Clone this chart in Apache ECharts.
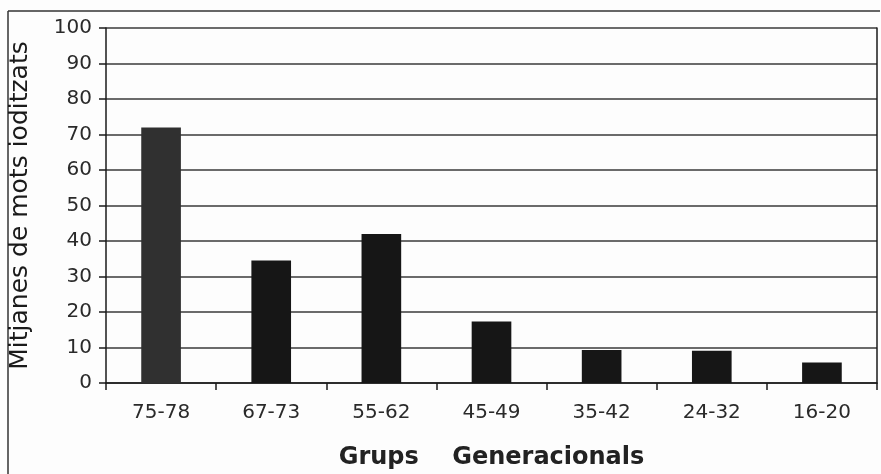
<!DOCTYPE html>
<html>
<head>
<meta charset="utf-8">
<script src="https://cdn.jsdelivr.net/npm/echarts@6/dist/echarts.min.js"></script>
<style>
  html, body { margin: 0; padding: 0; background: #fdfdfd; }
  #chart { width: 881px; height: 474px; }
</style>
</head>
<body>
<div id="chart"></div>
<script>
// Generational groups (age ranges) and mean counts per group
const groups = ['75-78', '67-73', '55-62', '45-49', '35-42', '24-32', '16-20'];
const means = [72, 34.5, 42, 17.3, 9.3, 9.1, 5.8];
const yTicks = [0, 10, 20, 30, 40, 50, 60, 70, 80, 90, 100];

const yTitle = 'Mitjanes de mots ioditzats';
const xTitle = 'Grups    Generacionals';

const font = 'DejaVu Sans';
const chart = echarts.init(document.getElementById('chart'), null, { renderer: 'canvas' });

chart.setOption({
  backgroundColor: '#fdfdfd',
  animation: false,
  grid: { left: 106, right: 4, top: 28, bottom: 91, containLabel: false, outerBoundsMode: 'none' },
  xAxis: {
    type: 'category',
    data: groups,
    boundaryGap: true,
    axisLine: { show: true, lineStyle: { color: '#1a1a1a', width: 1.5 } },
    axisTick: { show: true, inside: false, length: 7, alignWithLabel: false, lineStyle: { color: '#1a1a1a', width: 1.5 } },
    axisLabel: { color: '#2a2a2a', fontFamily: font, fontSize: 20, margin: 20 },
    name: xTitle,
    nameLocation: 'middle',
    nameGap: 63,
    nameTextStyle: { color: '#222', fontFamily: font, fontSize: 24, fontWeight: 'bold' }
  },
  yAxis: [
    {
      type: 'value',
      min: yTicks[0],
      max: yTicks[yTicks.length - 1],
      interval: 10,
      axisLine: { show: true, lineStyle: { color: '#1a1a1a', width: 1.5 } },
      axisTick: { show: true, length: 7, lineStyle: { color: '#1a1a1a', width: 1.5 } },
      axisLabel: { color: '#2a2a2a', fontFamily: font, fontSize: 20, margin: 14 },
      splitLine: { show: true, lineStyle: { color: '#3a3a3a', width: 1.5 } },
      name: yTitle,
      nameLocation: 'middle',
      nameGap: 73,
      nameRotate: 90,
      nameTextStyle: { color: '#1a1a1a', fontFamily: font, fontSize: 25 }
    },
    {
      type: 'value',
      position: 'right',
      min: 0,
      max: 100,
      interval: 10,
      axisLine: { show: true, lineStyle: { color: '#1a1a1a', width: 1.5 } },
      axisTick: { show: false },
      axisLabel: { show: false },
      splitLine: { show: false }
    }
  ],
  series: [{
    type: 'bar',
    yAxisIndex: 0,
    barWidth: '36%',
    data: means.map((v, i) => ({
      value: v,
      itemStyle: { color: i === 0 ? '#303030' : '#161616' }
    }))
  }],
  graphic: [
    // outer frame around the figure (top and left edges)
    { type: 'line', shape: { x1: 8, y1: 11, x2: 880, y2: 11 }, style: { stroke: '#333', lineWidth: 1.5 } },
    { type: 'line', shape: { x1: 8, y1: 11, x2: 8, y2: 474 }, style: { stroke: '#333', lineWidth: 1.5 } }
  ]
});
</script>
</body>
</html>
